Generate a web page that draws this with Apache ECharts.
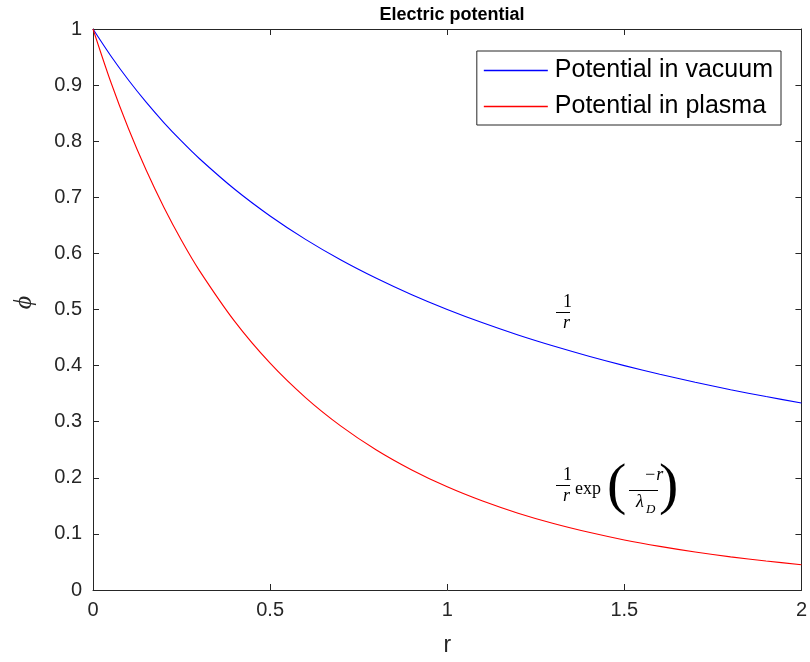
<!DOCTYPE html>
<html>
<head>
<meta charset="utf-8">
<script src="https://cdn.jsdelivr.net/npm/echarts@6/dist/echarts.min.js"></script>
<style>html,body{margin:0;padding:0;background:#fff}#c{width:810px;height:662px}</style>
</head>
<body>
<div id="c"></div>
<script>
const rValues = [0,0.05,0.1,0.15,0.2,0.25,0.3,0.4,0.5,0.6,0.7,0.8,0.9,1.0,1.1,1.2,1.3,1.4,1.5,1.6,1.7,1.8,1.9,2.0];
const vacuum = [1,0.9524,0.9091,0.8696,0.8333,0.8,0.7692,0.7143,0.6667,0.625,0.5882,0.5556,0.5263,0.5,0.4762,0.4545,0.4348,0.4167,0.4,0.3846,0.3704,0.3571,0.3448,0.3333];
const plasma = [1,0.9059,0.8225,0.7485,0.6823,0.6230,0.5698,0.4788,0.4043,0.3430,0.2921,0.2496,0.2140,0.1839,0.1585,0.1369,0.1185,0.1028,0.0892,0.0777,0.0677,0.0590,0.0516,0.0451];
const seriesNames = ['Potential in vacuum','Potential in plasma'];
const titleText = 'Electric potential';

const chart = echarts.init(document.getElementById('c'));
const axisCol = '#262626';
const sans = 'Liberation Sans, Arial, sans-serif';
const serif = 'Liberation Serif, DejaVu Serif, serif';
const tick = {show:true, inside:true, length:6, lineStyle:{color:axisCol}};
const line = {show:true, onZero:false, lineStyle:{color:axisCol, width:1}};

function frac(cx, yTop, num, den, w){
  return [
    {type:'text', left:cx, top:yTop, style:{text:num, font:'18px '+serif, fill:'#000', align:'center'}},
    {type:'rect', shape:{x:cx-w/2, y:yTop+19, width:w, height:1}, style:{fill:'#000'}},
    {type:'text', left:cx, top:yTop+21, style:{text:den, font:'italic 18px '+serif, fill:'#000', align:'center'}}
  ];
}

chart.setOption({
  animation:false,
  title:{text:titleText, left:447, textAlign:'center', top:1, textStyle:{fontFamily:sans, fontSize:18, fontWeight:'bold', color:'#000'}},
  grid:{left:93, top:29, right:7, bottom:72},
  legend:{
    right:29, top:51, orient:'vertical', padding:[7,8,6,7], itemGap:11,
    borderColor:'#262626', borderWidth:1, backgroundColor:'#fff',
    itemWidth:64, itemHeight:1.5, icon:'rect',
    textStyle:{fontFamily:sans, fontSize:25, color:'#000', padding:[0,0,0,2]},
    data:seriesNames
  },
  xAxis:[
    {type:'value', min:0, max:2, interval:0.5, axisLine:line, axisTick:tick, splitLine:{show:false},
     axisLabel:{fontFamily:sans, fontSize:20, color:axisCol, margin:10},
     name:'r', nameLocation:'middle', nameGap:44, nameTextStyle:{fontFamily:sans, fontSize:23, color:axisCol}},
    {type:'value', position:'top', min:0, max:2, interval:0.5, axisLine:line, axisTick:tick, axisLabel:{show:false}, splitLine:{show:false}}
  ],
  yAxis:[
    {type:'value', min:0, max:1, interval:0.1, axisLine:line, axisTick:tick, splitLine:{show:false},
     axisLabel:{fontFamily:sans, fontSize:20, color:axisCol, margin:11},
     name:'ϕ', nameLocation:'middle', nameGap:56, nameTextStyle:{fontFamily:serif, fontStyle:'italic', fontSize:26, color:axisCol, padding:[0,0,0,14]}},
    {type:'value', position:'right', min:0, max:1, interval:0.1, axisLine:line, axisTick:tick, axisLabel:{show:false}, splitLine:{show:false}}
  ],
  series:[
    {name:seriesNames[0], type:'line', smooth:0.3, showSymbol:false, symbol:'none', lineStyle:{color:'#0000ff', width:1.1}, itemStyle:{color:'#0000ff'},
     data:rValues.map((r,i)=>[r, vacuum[i]])},
    {name:seriesNames[1], type:'line', smooth:0.3, showSymbol:false, symbol:'none', lineStyle:{color:'#ff0000', width:1.1}, itemStyle:{color:'#ff0000'},
     data:rValues.map((r,i)=>[r, plasma[i]])}
  ],
  graphic:[].concat(
    frac(563, 293, '1', 'r', 14),
    frac(563, 466, '1', 'r', 14),
    [{type:'text', left:575, top:480, style:{text:'exp', font:'18px '+serif, fill:'#000'}},
     {type:'text', left:607, top:459, style:{text:'(', font:'300 58px '+serif, fill:'#000'}},
     {type:'text', left:644, top:466, style:{text:'−r', font:'italic 18px '+serif, fill:'#000', align:'center'}},
     {type:'rect', shape:{x:629, y:490, width:29, height:1}, style:{fill:'#000'}},
     {type:'text', left:636, top:493, style:{text:'λ', font:'italic 18px '+serif, fill:'#000'}},
     {type:'text', left:646, top:503, style:{text:'D', font:'italic 13px '+serif, fill:'#000'}},
     {type:'text', left:659, top:459, style:{text:')', font:'300 58px '+serif, fill:'#000'}}]
  )
});
</script>
</body>
</html>
